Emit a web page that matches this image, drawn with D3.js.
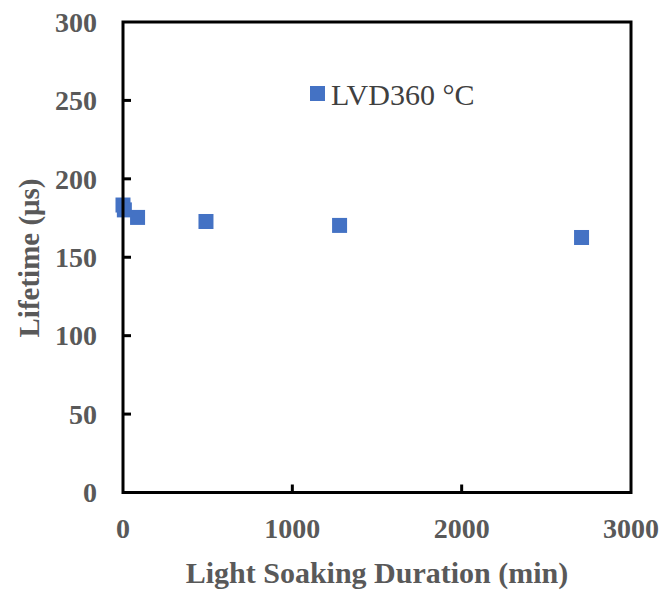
<!DOCTYPE html>
<html>
<head>
<meta charset="utf-8">
<script src="https://cdnjs.cloudflare.com/ajax/libs/d3/7.8.5/d3.min.js"></script>
<style>
    body { margin: 0; background: #fff; }
    svg text { font-family: "Liberation Serif", "Times New Roman", serif; }
</style>
</head>
<body>
<div id="chart"></div>
<script>
    'use strict';

    // data
    var durations = [0, 8, 86, 490, 1279, 2708];
    var lifetimes = [183.3, 180.2, 175.4, 172.8, 170.3, 162.6];
    var seriesName = 'LVD360 °C';
    var xTicks = [0, 1000, 2000, 3000];
    var yTicks = [0, 50, 100, 150, 200, 250, 300];

    var width = 666, height = 594;
    var margin = {top: 22, right: 35, bottom: 101.5, left: 123};

    var svg = d3.select('#chart').append('svg')
        .attr('width', width)
        .attr('height', height);

    var x = d3.scaleLinear().domain([0, 3000]).range([margin.left, width - margin.right]);
    var y = d3.scaleLinear().domain([0, 300]).range([height - margin.bottom, margin.top]);

    var labelColor = '#595959';

    // points
    var size = 15;
    svg.append('g').selectAll('rect')
        .data(durations.map(function (d, i) { return {x: d, y: lifetimes[i]}; }))
        .enter().append('rect')
        .attr('x', function (d) { return x(d.x) - size / 2; })
        .attr('y', function (d) { return y(d.y) - size / 2; })
        .attr('width', size)
        .attr('height', size)
        .attr('fill', '#4472C4');

    // frame
    svg.append('rect')
        .attr('x', x(0)).attr('y', y(300))
        .attr('width', x(3000) - x(0))
        .attr('height', y(0) - y(300))
        .attr('fill', 'none')
        .attr('stroke', '#000')
        .attr('stroke-width', 3);

    // inward ticks
    var tickLen = 8;
    svg.append('g').selectAll('line')
        .data(yTicks.filter(function (t) { return t > 0 && t < 300; }))
        .enter().append('line')
        .attr('x1', x(0)).attr('x2', x(0) + tickLen)
        .attr('y1', function (d) { return y(d); })
        .attr('y2', function (d) { return y(d); })
        .attr('stroke', '#000').attr('stroke-width', 3);

    svg.append('g').selectAll('line')
        .data(xTicks.filter(function (t) { return t > 0 && t < 3000; }))
        .enter().append('line')
        .attr('x1', function (d) { return x(d); })
        .attr('x2', function (d) { return x(d); })
        .attr('y1', y(0)).attr('y2', y(0) - tickLen)
        .attr('stroke', '#000').attr('stroke-width', 3);

    // tick labels
    svg.append('g').selectAll('text')
        .data(yTicks)
        .enter().append('text')
        .attr('x', 97)
        .attr('y', function (d) { return y(d); })
        .attr('dy', '0.35em')
        .attr('text-anchor', 'end')
        .attr('font-size', 28)
        .attr('font-weight', 'bold')
        .attr('fill', labelColor)
        .text(function (d) { return d; });

    svg.append('g').selectAll('text')
        .data(xTicks)
        .enter().append('text')
        .attr('x', function (d) { return x(d); })
        .attr('y', 538)
        .attr('text-anchor', 'middle')
        .attr('font-size', 28)
        .attr('font-weight', 'bold')
        .attr('fill', labelColor)
        .text(function (d) { return d; });

    // axis titles
    svg.append('text')
        .attr('x', 377)
        .attr('y', 583)
        .attr('text-anchor', 'middle')
        .attr('font-size', 30)
        .attr('font-weight', 'bold')
        .attr('fill', labelColor)
        .text('Light Soaking Duration (min)');

    svg.append('text')
        .attr('transform', 'translate(39,' + 258 + ') rotate(-90)')
        .attr('text-anchor', 'middle')
        .attr('font-size', 29)
        .attr('font-weight', 'bold')
        .attr('fill', labelColor)
        .text('Lifetime (μs)');

    // legend
    svg.append('rect')
        .attr('x', 310).attr('y', 86)
        .attr('width', 15).attr('height', 15)
        .attr('fill', '#4472C4');
    svg.append('text')
        .attr('x', 331)
        .attr('y', 94)
        .attr('dy', '0.35em')
        .attr('font-size', 30)
        .attr('fill', '#404040')
        .text(seriesName);
</script>
</body>
</html>
